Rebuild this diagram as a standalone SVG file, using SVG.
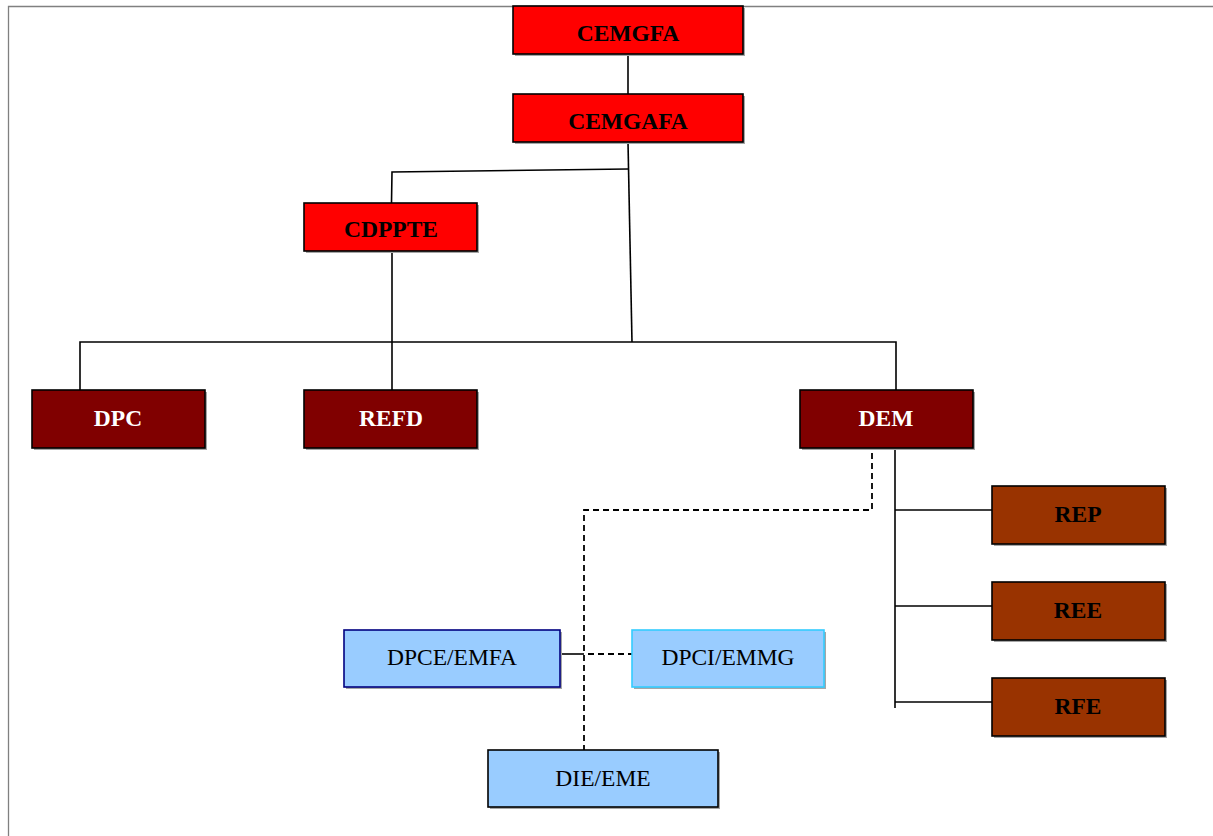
<svg xmlns="http://www.w3.org/2000/svg" width="1213" height="836" viewBox="0 0 1213 836">
  <style>
    .box { stroke-width: 1.6; }
    .shadow { fill: #a6a6a6; }
    .red { fill: #ff0000; stroke: #000; }
    .maroon { fill: #800000; stroke: #000; }
    .brown { fill: #993300; stroke: #000; }
    .blue { fill: #99ccff; }
    .bold { font-family: "Liberation Serif", "Times New Roman", serif; font-weight: bold; font-size: 23.5px; text-anchor: middle; }
    .plain { font-family: "Liberation Serif", "Times New Roman", serif; font-size: 23.5px; text-anchor: middle; fill: #000; }
    .dark { fill: #000; }
    .light { fill: #fff; }
    .solid { fill: none; stroke: #000; stroke-width: 1.6; }
    .dash { fill: none; stroke: #000; stroke-width: 1.8; stroke-dasharray: 6 4; }
  </style>

  <rect width="1213" height="836" fill="#fff"/>
  <!-- page frame -->
  <path d="M8.5,836 V6.5 H1213" fill="none" stroke="#808080" stroke-width="1.3"/>

  <!-- connectors -->
  <g id="connectors">
    <line class="solid" x1="628" y1="54" x2="628" y2="94"/>
    <polyline class="solid" points="628,169 392,172 391.5,203"/>
    <line class="solid" x1="628" y1="142" x2="632" y2="342"/>
    <line class="solid" x1="392" y1="251" x2="392" y2="390"/>
    <polyline class="solid" points="80,390 80,342 896,342 896,390"/>
    <line class="solid" x1="895" y1="443" x2="895" y2="708"/>
    <line class="solid" x1="895" y1="510" x2="992" y2="510"/>
    <line class="solid" x1="895" y1="606" x2="992" y2="606"/>
    <line class="solid" x1="895" y1="702" x2="992" y2="702"/>
    <polyline class="dash" points="872,443 872,510 584,510 584,750"/>
    <line class="solid" x1="560" y1="654" x2="584" y2="654"/>
    <line class="dash" x1="588" y1="654" x2="632" y2="654"/>
  </g>

  <g id="CEMGFA">
    <rect class="shadow" x="515" y="8" width="230" height="48"/>
    <rect class="box red" x="513" y="6" width="230" height="48"/>
    <text class="bold dark" x="628" y="41">CEMGFA</text>
  </g>
  <g id="CEMGAFA">
    <rect class="shadow" x="515" y="96" width="230" height="48"/>
    <rect class="box red" x="513" y="94" width="230" height="48"/>
    <text class="bold dark" x="628" y="129">CEMGAFA</text>
  </g>
  <g id="CDPPTE">
    <rect class="shadow" x="306" y="205" width="173" height="48"/>
    <rect class="box red" x="304" y="203" width="173" height="48"/>
    <text class="bold dark" x="391" y="237">CDPPTE</text>
  </g>
  <g id="DPC">
    <rect class="shadow" x="34" y="392" width="173" height="58"/>
    <rect class="box maroon" x="32" y="390" width="173" height="58"/>
    <text class="bold light" x="118" y="426">DPC</text>
  </g>
  <g id="REFD">
    <rect class="shadow" x="306" y="392" width="173" height="58"/>
    <rect class="box maroon" x="304" y="390" width="173" height="58"/>
    <text class="bold light" x="391" y="426">REFD</text>
  </g>
  <g id="DEM">
    <rect class="shadow" x="802" y="392" width="173" height="58"/>
    <rect class="box maroon" x="800" y="390" width="173" height="58"/>
    <text class="bold light" x="886" y="426">DEM</text>
  </g>
  <g id="REP">
    <rect class="shadow" x="994" y="488" width="173" height="58"/>
    <rect class="box brown" x="992" y="486" width="173" height="58"/>
    <text class="bold dark" x="1078" y="522">REP</text>
  </g>
  <g id="REE">
    <rect class="shadow" x="994" y="584" width="173" height="58"/>
    <rect class="box brown" x="992" y="582" width="173" height="58"/>
    <text class="bold dark" x="1078" y="618">REE</text>
  </g>
  <g id="RFE">
    <rect class="shadow" x="994" y="680" width="173" height="58"/>
    <rect class="box brown" x="992" y="678" width="173" height="58"/>
    <text class="bold dark" x="1078" y="714">RFE</text>
  </g>
  <g id="DPCE-EMFA">
    <rect class="shadow" x="346" y="632" width="216" height="57"/>
    <rect class="box blue" x="344" y="630" width="216" height="57" stroke="#000080"/>
    <text class="plain" x="452" y="665">DPCE/EMFA</text>
  </g>
  <g id="DPCI-EMMG">
    <rect class="shadow" x="634" y="632" width="192" height="57"/>
    <rect class="box blue" x="632" y="630" width="192" height="57" stroke="#33ccff"/>
    <text class="plain" x="728" y="665">DPCI/EMMG</text>
  </g>
  <g id="DIE-EME">
    <rect class="shadow" x="490" y="752" width="230" height="57"/>
    <rect class="box blue" x="488" y="750" width="230" height="57" stroke="#000"/>
    <text class="plain" x="603" y="786">DIE/EME</text>
  </g>
</svg>
